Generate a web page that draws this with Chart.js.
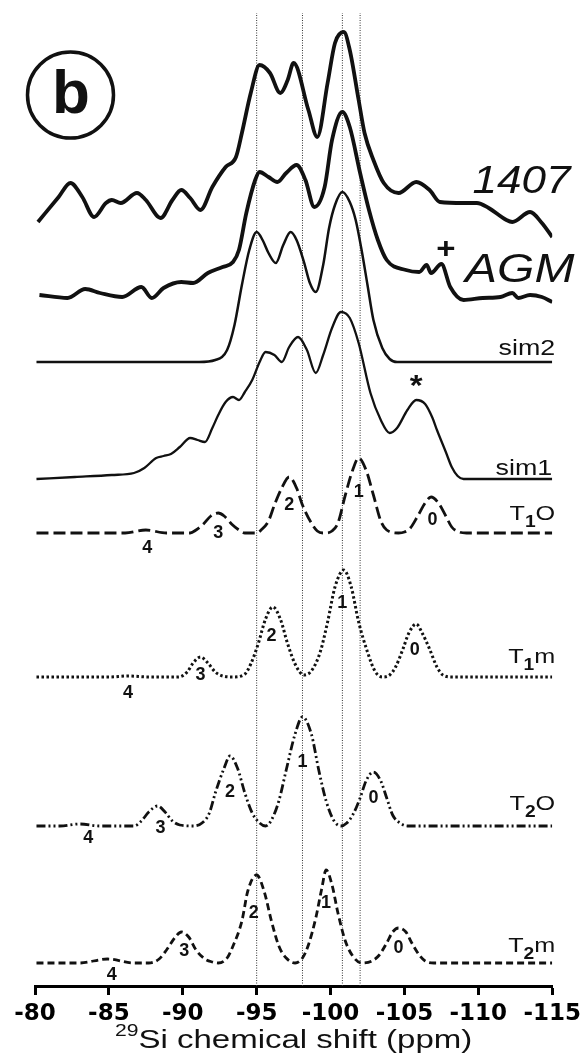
<!DOCTYPE html>
<html>
<head>
<meta charset="utf-8">
<script src="https://cdn.jsdelivr.net/npm/chart.js@4.4.1/dist/chart.umd.min.js"></script>
<style>
  html, body { margin: 0; padding: 0; background: #fff; }
  canvas { display: block; }
</style>
</head>
<body>
<canvas id="nmrChart" width="586" height="1056"></canvas>
<script>
// 29Si spectra, stacked. ppm positions + intensity above each trace's own baseline
const ppm1407 = [-80.2,-81.6,-82.4,-83.2,-84.0,-84.8,-85.2,-85.8,-86.9,-87.5,-88.5,-89.3,-89.9,-90.5,-91.2,-92.0,-92.9,-93.6,-94.0,-94.6,-95.2,-95.9,-96.6,-97.1,-97.5,-98.5,-99.1,-99.8,-100.3,-100.9,-101.3,-101.9,-102.3,-102.9,-103.6,-104.6,-105.8,-106.7,-107.4,-109.0,-109.9,-110.7,-111.9,-112.3,-113.5,-114.3,-115.0];
const int1407 = [0,25,39,25,5,19,22,19,29,22,4,22,32,24,12,35,55,65,89,129,157,149,129,142,159,112,85,139,179,190,172,122,89,62,39,29,40,32,20,19,19,14,2,0,10,-1,-15];

const ppmAGM = [-80.3,-82.2,-83.4,-84.4,-85.9,-87.2,-87.9,-88.7,-89.9,-90.7,-91.7,-92.7,-93.4,-93.8,-94.3,-94.9,-95.2,-95.8,-96.4,-97.0,-97.7,-98.3,-98.9,-99.6,-100.1,-100.8,-101.3,-102.0,-102.6,-103.2,-103.8,-105.1,-106.0,-106.5,-106.8,-107.5,-108.1,-109.0,-110.3,-111.5,-112.3,-112.7,-113.5,-114.3,-115.0];
const intAGM = [5,2,11,7,3,13,2,12,18,17,27,33,38,50,87,120,128,123,118,127,135,120,93,113,160,188,173,127,90,60,40,30,28,35,27,36,13,0,2,3,7,2,5,3,-2];

const ppmSim2 = [-80.1,-91.1,-92.2,-93.0,-93.5,-94.0,-94.5,-95.0,-95.4,-95.8,-96.3,-96.8,-97.3,-97.7,-98.2,-98.6,-99.0,-99.5,-99.9,-100.3,-100.8,-101.3,-101.7,-102.1,-102.5,-102.9,-103.5,-104.0,-104.5,-115.0];
const intSim2 = [0,0,2,12,37,77,112,130,122,109,99,117,130,122,100,79,70,97,134,157,170,160,142,112,77,42,14,3,0,0];

const ppmSim1 = [-80.1,-82.7,-85.2,-86.7,-87.4,-88.2,-88.7,-89.2,-89.8,-90.5,-91.0,-91.5,-92.0,-92.4,-92.9,-93.4,-93.8,-94.2,-94.7,-95.2,-95.6,-96.2,-96.7,-97.2,-97.8,-98.4,-99.0,-99.5,-100.1,-100.7,-101.3,-101.9,-102.7,-103.4,-104.0,-104.5,-105.2,-105.8,-106.4,-106.9,-107.2,-107.8,-108.2,-108.6,-109.0,-115.0];
const intSim1 = [0,2,4,6,11,21,23,25,32,41,39,37,51,64,77,82,79,87,99,117,127,124,117,132,142,129,106,124,151,167,161,136,86,59,46,51,69,79,75,61,49,27,12,3,0,0];

const ppmT1O = [-80.1,-86.1,-87.5,-88.9,-90.5,-90.9,-91.4,-91.9,-92.4,-92.8,-93.3,-93.8,-94.2,-95.0,-95.3,-95.8,-96.2,-96.7,-97.2,-97.7,-98.1,-98.7,-99.1,-99.6,-100.1,-100.5,-101.0,-101.5,-101.9,-102.4,-102.9,-103.4,-103.8,-104.6,-105.0,-105.4,-105.9,-106.4,-106.8,-107.3,-107.8,-108.2,-108.7,-109.2,-115.0];
const intT1O = [0,0,3,0,0,3,9,17,20,17,9,3,0,0,3,12,28,45,56,45,28,10,2,0,2,10,38,63,75,63,38,12,3,0,1,5,17,30,36,30,17,6,1,0,0];

const ppmT1m = [-80.1,-85.0,-86.3,-87.7,-89.7,-90.3,-90.7,-91.2,-91.7,-92.2,-92.7,-93.4,-94.2,-94.6,-95.1,-95.6,-96.1,-96.6,-97.1,-97.6,-98.2,-98.7,-99.3,-99.8,-100.3,-100.9,-101.4,-101.9,-102.5,-103.0,-103.5,-104.0,-104.4,-104.9,-105.3,-105.8,-106.2,-106.7,-107.2,-107.6,-108.2,-115.0];
const intT1m = [0,0,1,0,0,5,14,20,14,5,1,0,3,13,33,58,70,58,33,13,2,6,25,55,90,107,90,55,25,6,0,2,10,28,44,53,44,28,10,2,0,0];

const ppmT2O = [-80.1,-81.7,-83.0,-84.4,-86.7,-87.2,-87.7,-88.3,-88.8,-89.3,-89.8,-90.7,-91.3,-91.8,-92.2,-92.8,-93.2,-93.7,-94.2,-94.7,-95.2,-95.6,-96.0,-96.5,-97.0,-97.6,-98.1,-98.7,-99.2,-99.7,-100.2,-100.7,-101.1,-101.5,-102.0,-102.4,-102.9,-103.4,-103.8,-104.2,-104.7,-105.2,-115.0];
const intT2O = [0,0,2,0,0,5,14,20,14,5,1,0,3,13,33,58,70,58,33,13,3,0,6,25,56,92,109,92,56,25,6,0,3,11,28,45,54,45,28,11,3,0,0];

const ppmT2m = [-80.1,-83.0,-84.9,-86.7,-87.7,-88.4,-88.9,-89.5,-89.9,-90.4,-90.9,-91.5,-92.0,-92.4,-93.0,-93.4,-94.0,-94.4,-95.0,-95.5,-96.0,-96.5,-97.0,-97.6,-98.1,-98.5,-99.0,-99.4,-99.7,-100.1,-100.5,-101.0,-101.5,-102.1,-102.8,-103.3,-103.8,-104.2,-104.6,-105.1,-105.5,-106.0,-106.4,-107.0,-115.0];
const intT2m = [0,0,4,0,0,4,13,26,31,26,13,4,1,0,5,17,42,72,88,72,42,17,5,0,5,18,45,74,93,78,50,22,7,0,2,8,20,31,35,31,20,8,2,0,0];

// vertical guide lines (ppm)
const refPpm = [-95.0, -98.1, -100.8, -102.0];

// peak (Q^n) numbers under the component traces
const peakNames = ['4', '3', '2', '1', '0'];
const t1oLabelPpm = [-87.6, -92.4, -97.2, -101.9, -106.9];
const t1mLabelPpm = [-86.3, -91.2, -96.0, -100.8, -105.7];
const t2oLabelPpm = [-83.6, -88.5, -93.2, -98.1, -102.9];
const t2mLabelPpm = [-85.2, -90.1, -94.8, -99.7, -104.6];

const xTicks = [-80, -85, -90, -95, -100, -105, -110, -115];

// ---- layout / style (not data) ----
const baseLevels = [764, 686, 624, 507, 453, 309, 160, 23];
const t1oLabelLift = [-15, 0, 28, 41, 13];
const t1mLabelLift = [-16, 2, 41, 74, 27];
const t2oLabelLift = [-12, -2, 34, 64, 28];
const t2mLabelLift = [-12, 12, 50, 60, 15];

const ink = '#111';

function toPoints(ppm, vals, base) {
  return ppm.map((x, i) => ({ x: x, y: vals[i] + base }));
}

function trace(label, ppm, vals, base, width, dash) {
  return {
    label: label,
    data: toPoints(ppm, vals, base),
    borderColor: ink,
    borderWidth: width,
    borderDash: dash || [],
    borderCapStyle: 'butt',
    cubicInterpolationMode: 'monotone',
    pointRadius: 0,
    fill: false
  };
}

const datasets = [
  trace('1407', ppm1407, int1407, baseLevels[0], 3.8),
  trace('AGM', ppmAGM, intAGM, baseLevels[1], 3.8),
  trace('sim2', ppmSim2, intSim2, baseLevels[2], 2.5),
  trace('sim1', ppmSim1, intSim1, baseLevels[3], 2.3),
  trace('T1O', ppmT1O, intT1O, baseLevels[4], 2.8, [12, 5]),
  trace('T1m', ppmT1m, intT1m, baseLevels[5], 3, [2.5, 2.5]),
  trace('T2O', ppmT2O, intT2O, baseLevels[6], 2.8, [9, 3, 2, 3, 2, 3]),
  trace('T2m', ppmT2m, intT2m, baseLevels[7], 2.8, [7, 4])
];

refPpm.forEach(p => {
  datasets.push({
    label: 'ref',
    data: [{ x: p, y: 0 }, { x: p, y: 973 }],
    borderColor: '#333',
    borderWidth: 1,
    borderDash: [1, 1.5],
    pointRadius: 0,
    fill: false
  });
});

function stretchText(ctx, txt, x, y, font, sx, align) {
  ctx.save();
  ctx.font = font;
  const w = ctx.measureText(txt).width * sx;
  let left = x;
  if (align === 'right') left = x - w;
  else if (align === 'center') left = x - w / 2;
  ctx.translate(left, y);
  ctx.scale(sx, 1);
  ctx.textAlign = 'left';
  ctx.fillText(txt, 0, 0);
  ctx.restore();
  return w;
}

function subLabel(ctx, main, sub, tail, xRight, yBase) {
  const f1 = '21px "Liberation Sans"';
  const f2 = 'bold 16px "Liberation Sans"';
  const sx = 1.2;
  ctx.font = f1;
  const w1 = ctx.measureText(main).width * sx;
  const w3 = ctx.measureText(tail).width * sx;
  ctx.font = f2;
  const w2 = ctx.measureText(sub).width * sx;
  let x = xRight - (w1 + w2 + w3);
  x += stretchText(ctx, main, x, yBase, f1, sx, 'left');
  x += stretchText(ctx, sub, x, yBase + 7, f2, sx, 'left');
  stretchText(ctx, tail, x, yBase, f1, sx, 'left');
}

const decorations = {
  id: 'decorations',
  afterDraw(chart) {
    const ctx = chart.ctx;
    const xs = chart.scales.x;
    const ys = chart.scales.y;
    const X = v => xs.getPixelForValue(v);
    const Y = v => ys.getPixelForValue(v);
    ctx.save();
    ctx.fillStyle = ink;
    ctx.strokeStyle = ink;
    ctx.textBaseline = 'alphabetic';

    // panel letter
    ctx.lineWidth = 3.5;
    ctx.beginPath();
    ctx.arc(70.5, 95, 43, 0, Math.PI * 2);
    ctx.stroke();
    ctx.textBaseline = 'middle';
    stretchText(ctx, 'b', 71, 96, 'bold 62px "Liberation Sans"', 1, 'center');
    ctx.textBaseline = 'alphabetic';

    // sample names
    stretchText(ctx, '1407', X(-109.6), Y(baseLevels[0] + 29), 'italic 39px "Liberation Sans"', 1.13, 'left');
    stretchText(ctx, 'AGM', X(-109.1), Y(baseLevels[1] + 18), 'italic 40px "Liberation Sans"', 1.2, 'left');
    stretchText(ctx, '+', X(-107.8), Y(baseLevels[1] + 42), 'bold 30px "Liberation Sans"', 1.1, 'center');
    stretchText(ctx, '*', X(-105.8), Y(baseLevels[3] + 84), 'bold 30px "Liberation Sans"', 1.1, 'center');

    const xr = X(-115) + 3;
    stretchText(ctx, 'sim2', xr, Y(baseLevels[2] + 7), '22px "Liberation Sans"', 1.22, 'right');
    stretchText(ctx, 'sim1', X(-115), Y(baseLevels[3] + 4), '22px "Liberation Sans"', 1.22, 'right');
    subLabel(ctx, 'T', '1', 'O', xr, Y(baseLevels[4] + 13));
    subLabel(ctx, 'T', '1', 'm', xr, Y(baseLevels[5] + 14));
    subLabel(ctx, 'T', '2', 'O', xr, Y(baseLevels[6] + 16));
    subLabel(ctx, 'T', '2', 'm', xr, Y(baseLevels[7] + 11));

    // peak numbers
    ctx.textBaseline = 'middle';
    const groups = [
      [t1oLabelPpm, t1oLabelLift, baseLevels[4]],
      [t1mLabelPpm, t1mLabelLift, baseLevels[5]],
      [t2oLabelPpm, t2oLabelLift, baseLevels[6]],
      [t2mLabelPpm, t2mLabelLift, baseLevels[7]]
    ];
    groups.forEach(g => {
      peakNames.forEach((n, k) => {
        stretchText(ctx, n, X(g[0][k]), Y(g[2] + g[1][k]), 'bold 18px "Liberation Sans"', 1.0, 'center');
      });
    });

    // axis title with superscript
    ctx.textBaseline = 'alphabetic';
    const fMain = '25px "Liberation Sans"';
    const fSup = '16px "Liberation Sans"';
    const sx = 1.32;
    ctx.font = fMain;
    const wMain = ctx.measureText('Si chemical shift (ppm)').width * sx;
    ctx.font = fSup;
    const wSup = ctx.measureText('29').width * sx;
    let tx = (xs.left + xs.right) / 2 - (wMain + wSup) / 2;
    tx += stretchText(ctx, '29', tx, 1036, fSup, sx, 'left');
    stretchText(ctx, 'Si chemical shift (ppm)', tx, 1048, fMain, sx, 'left');
    ctx.restore();
  }
};

const ctx = document.getElementById('nmrChart').getContext('2d');
const nmrChart = new Chart(ctx, {
  type: 'line',
  data: { datasets: datasets },
  plugins: [decorations],
  options: {
    responsive: false,
    animation: false,
    devicePixelRatio: 1,
    layout: { padding: { left: 35, right: 29, top: 0, bottom: 0 } },
    plugins: {
      legend: { display: false },
      tooltip: { enabled: false }
    },
    scales: {
      x: {
        type: 'linear',
        min: -115,
        max: -80,
        reverse: true,
        afterFit(scale) { scale.height = 70; },
        afterBuildTicks(scale) { scale.ticks = xTicks.map(v => ({ value: v })); },
        border: { display: true, color: '#000', width: 3 },
        grid: { drawOnChartArea: false, drawTicks: true, tickLength: 9, tickWidth: 3, tickColor: '#000' },
        ticks: {
          color: '#000',
          padding: 5,
          maxRotation: 0,
          font: { family: 'DejaVu Sans', weight: 'bold', size: 23 }
        }
      },
      y: {
        display: false,
        min: 0,
        max: 986
      }
    }
  }
});
</script>
</body>
</html>
